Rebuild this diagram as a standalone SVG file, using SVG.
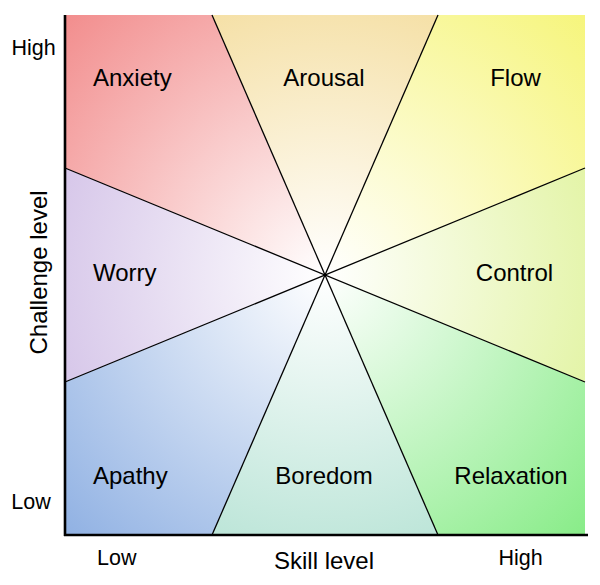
<svg xmlns="http://www.w3.org/2000/svg" width="600" height="585" viewBox="0 0 600 585">
<style>
  text { font-family: "Liberation Sans", Arial, sans-serif; fill: #000; }
  .lbl { font-size: 24px; }
  .ax { font-size: 21.5px; }
  .div { stroke: #000; stroke-width: 1.3; fill: none; }
  .axis { stroke: #000; stroke-width: 2.6; fill: none; }
</style>
<defs>
  <radialGradient id="gAnx" gradientUnits="userSpaceOnUse" cx="325" cy="275" r="368">
    <stop offset="0" stop-color="#ffffff"/><stop offset="1" stop-color="#f28d8d"/>
  </radialGradient>
  <radialGradient id="gAro" gradientUnits="userSpaceOnUse" cx="325" cy="275" r="285">
    <stop offset="0" stop-color="#ffffff"/><stop offset="1" stop-color="#f5e0a6"/>
  </radialGradient>
  <radialGradient id="gFlo" gradientUnits="userSpaceOnUse" cx="325" cy="275" r="368">
    <stop offset="0" stop-color="#ffffff"/><stop offset="1" stop-color="#f6f57c"/>
  </radialGradient>
  <radialGradient id="gCon" gradientUnits="userSpaceOnUse" cx="325" cy="275" r="285">
    <stop offset="0" stop-color="#ffffff"/><stop offset="1" stop-color="#e3f4a6"/>
  </radialGradient>
  <radialGradient id="gRel" gradientUnits="userSpaceOnUse" cx="325" cy="275" r="368">
    <stop offset="0" stop-color="#ffffff"/><stop offset="1" stop-color="#88ec88"/>
  </radialGradient>
  <radialGradient id="gBor" gradientUnits="userSpaceOnUse" cx="325" cy="275" r="285">
    <stop offset="0" stop-color="#ffffff"/><stop offset="1" stop-color="#bce5d8"/>
  </radialGradient>
  <radialGradient id="gApa" gradientUnits="userSpaceOnUse" cx="325" cy="275" r="368">
    <stop offset="0" stop-color="#ffffff"/><stop offset="1" stop-color="#90b1e3"/>
  </radialGradient>
  <radialGradient id="gWor" gradientUnits="userSpaceOnUse" cx="325" cy="275" r="285">
    <stop offset="0" stop-color="#ffffff"/><stop offset="1" stop-color="#d6c6e9"/>
  </radialGradient>
</defs>
<rect width="600" height="585" fill="#ffffff"/>

<g id="anxiety">
  <polygon points="325,275 65,168 65,15 212,15" fill="url(#gAnx)"/>
  <text class="lbl" x="93" y="86">Anxiety</text>
</g>
<g id="arousal">
  <polygon points="325,275 212,15 438,15" fill="url(#gAro)"/>
  <text class="lbl" x="324" y="86" text-anchor="middle">Arousal</text>
</g>
<g id="flow">
  <polygon points="325,275 438,15 585,15 585,168" fill="url(#gFlo)"/>
  <text class="lbl" x="515.5" y="86" text-anchor="middle">Flow</text>
</g>
<g id="control">
  <polygon points="325,275 585,168 585,382" fill="url(#gCon)"/>
  <text class="lbl" x="514.5" y="281" text-anchor="middle">Control</text>
</g>
<g id="relaxation">
  <polygon points="325,275 585,382 585,535 438,535" fill="url(#gRel)"/>
  <text class="lbl" x="511" y="484" text-anchor="middle">Relaxation</text>
</g>
<g id="boredom">
  <polygon points="325,275 438,535 212,535" fill="url(#gBor)"/>
  <text class="lbl" x="324" y="484" text-anchor="middle">Boredom</text>
</g>
<g id="apathy">
  <polygon points="325,275 212,535 65,535 65,382" fill="url(#gApa)"/>
  <text class="lbl" x="93" y="484">Apathy</text>
</g>
<g id="worry">
  <polygon points="325,275 65,382 65,168" fill="url(#gWor)"/>
  <text class="lbl" x="93" y="281">Worry</text>
</g>

<g id="connectors">
  <line class="div" x1="212" y1="15" x2="438" y2="535"/>
  <line class="div" x1="438" y1="15" x2="212" y2="535"/>
  <line class="div" x1="65" y1="168" x2="585" y2="382"/>
  <line class="div" x1="65" y1="382" x2="585" y2="168"/>
</g>

<g id="axes">
  <line class="axis" x1="65" y1="15" x2="65" y2="536"/>
  <line class="axis" x1="64" y1="535" x2="588" y2="535"/>
  <text class="ax" x="33.5" y="55" text-anchor="middle">High</text>
  <text class="ax" x="31" y="509" text-anchor="middle">Low</text>
  <text class="ax" x="116.7" y="565" text-anchor="middle">Low</text>
  <text class="ax" x="520.5" y="565" text-anchor="middle">High</text>
  <text class="lbl" x="324" y="569" text-anchor="middle">Skill level</text>
  <text class="lbl" x="0" y="0" text-anchor="middle" transform="translate(46.5,272.5) rotate(-90)">Challenge level</text>
</g>
</svg>
